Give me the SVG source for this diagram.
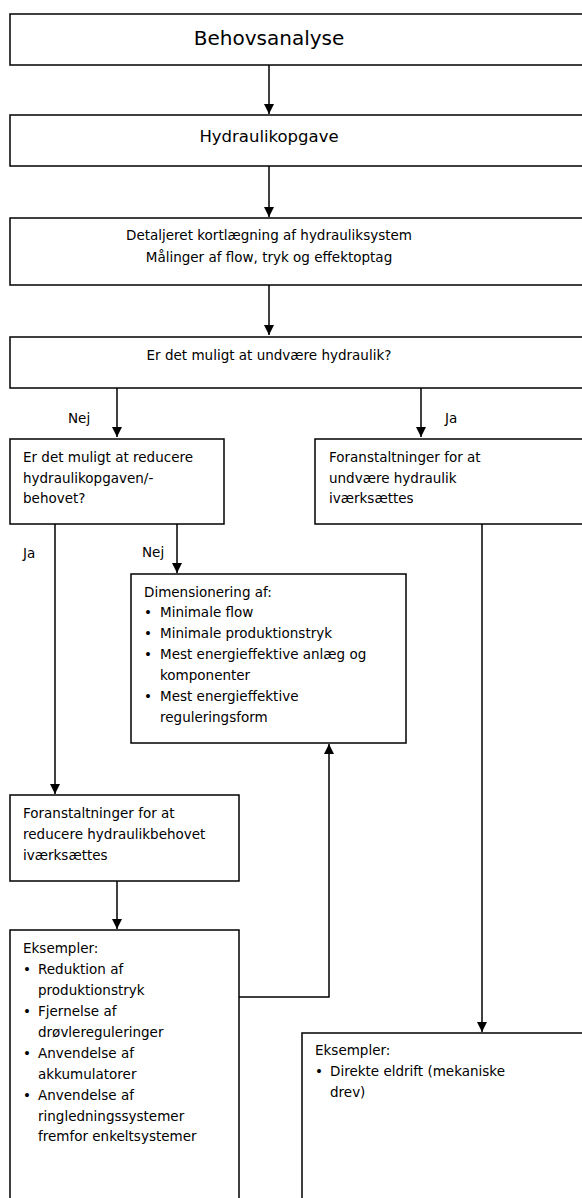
<svg xmlns="http://www.w3.org/2000/svg" width="582" height="1198" viewBox="0 0 582 1198">
<defs>
<marker id="ah" markerUnits="userSpaceOnUse" markerWidth="10" markerHeight="10" refX="10" refY="5" orient="auto"><path d="M0,0 L10,5 L0,10 z" fill="#000"/></marker>
<style>
.box{fill:#fff;stroke:#000;stroke-width:1.5}
.c{stroke:#000;stroke-width:1.5;fill:none}
.a{marker-end:url(#ah)}
text{font-family:"DejaVu Sans","Verdana",sans-serif;font-size:13.5px;fill:#000}
.m{text-anchor:middle}
.big{font-size:20px}
.mid{font-size:16.5px}
</style>
</defs>
<g id="connectors">
<line class="c a" x1="269" y1="65" x2="269" y2="114"/>
<line class="c a" x1="269" y1="166" x2="269" y2="217"/>
<line class="c a" x1="269" y1="285" x2="269" y2="335"/>
<line class="c a" x1="117" y1="388" x2="117" y2="437"/>
<line class="c a" x1="421" y1="388" x2="421" y2="437"/>
<line class="c a" x1="55" y1="524" x2="55" y2="794"/>
<line class="c a" x1="177" y1="524" x2="177" y2="573"/>
<line class="c a" x1="117" y1="881" x2="117" y2="929"/>
<polyline class="c a" points="239,997 329,997 329,744"/>
<line class="c a" x1="482" y1="524" x2="482" y2="1032"/>
<text x="68" y="423">Nej</text>
<text x="445" y="423">Ja</text>
<text x="23" y="558">Ja</text>
<text x="142" y="557">Nej</text>
</g>
<g id="n1"><rect class="box" x="10" y="14" width="580" height="51"/><text class="m big" x="269" y="45">Behovsanalyse</text></g>
<g id="n2"><rect class="box" x="10" y="115" width="580" height="51"/><text class="m mid" x="269" y="142">Hydraulikopgave</text></g>
<g id="n3"><rect class="box" x="10" y="218" width="580" height="67"/><text class="m" x="269" y="240">Detaljeret kortlægning af hydrauliksystem</text><text class="m" x="269" y="262">Målinger af flow, tryk og effektoptag</text></g>
<g id="n4"><rect class="box" x="10" y="337" width="580" height="51"/><text class="m" x="269" y="360">Er det muligt at undvære hydraulik?</text></g>
<g id="n5"><rect class="box" x="10" y="439" width="214" height="85"/><text x="23" y="462">Er det muligt at reducere</text><text x="23" y="483">hydraulikopgaven/-</text><text x="23" y="503">behovet?</text></g>
<g id="n6"><rect class="box" x="315" y="439" width="275" height="85"/><text x="329" y="462">Foranstaltninger for at</text><text x="329" y="483">undvære hydraulik</text><text x="329" y="503">iværksættes</text></g>
<g id="n7"><rect class="box" x="131" y="574" width="275" height="169"/><text x="144" y="597">Dimensionering af:</text>
<text x="144" y="617">•</text><text x="160" y="617">Minimale flow</text>
<text x="144" y="638">•</text><text x="160" y="638">Minimale produktionstryk</text>
<text x="144" y="659">•</text><text x="160" y="659">Mest energieffektive anlæg og</text>
<text x="160" y="680">komponenter</text>
<text x="144" y="701">•</text><text x="160" y="701">Mest energieffektive</text>
<text x="160" y="722">reguleringsform</text></g>
<g id="n8"><rect class="box" x="10" y="795" width="229" height="86"/><text x="23" y="818">Foranstaltninger for at</text><text x="23" y="839">reducere hydraulikbehovet</text><text x="23" y="860">iværksættes</text></g>
<g id="n9"><rect class="box" x="10" y="930" width="229" height="280"/><text x="23" y="953">Eksempler:</text>
<text x="23" y="974">•</text><text x="38" y="974">Reduktion af</text>
<text x="38" y="995">produktionstryk</text>
<text x="23" y="1016">•</text><text x="38" y="1016">Fjernelse af</text>
<text x="38" y="1037">drøvlereguleringer</text>
<text x="23" y="1058">•</text><text x="38" y="1058">Anvendelse af</text>
<text x="38" y="1079">akkumulatorer</text>
<text x="23" y="1100">•</text><text x="38" y="1100">Anvendelse af</text>
<text x="38" y="1121">ringledningssystemer</text>
<text x="38" y="1141">fremfor enkeltsystemer</text></g>
<g id="n10"><rect class="box" x="302" y="1033" width="288" height="177"/><text x="315" y="1055">Eksempler:</text>
<text x="315" y="1076">•</text><text x="330" y="1076">Direkte eldrift (mekaniske</text>
<text x="330" y="1097">drev)</text></g>
</svg>
